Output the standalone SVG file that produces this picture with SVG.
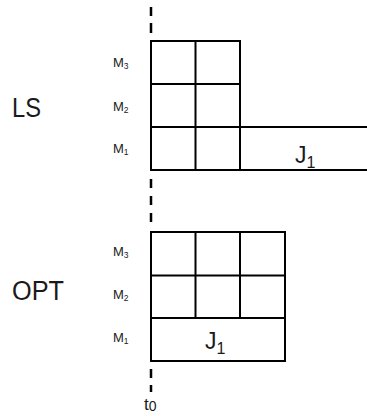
<svg xmlns="http://www.w3.org/2000/svg" width="367" height="416" viewBox="0 0 367 416">
<style>
.g{fill:none;stroke:#000;stroke-width:2}
.d{fill:none;stroke:#000;stroke-width:2.5}
text{font-family:"Liberation Sans",Arial,sans-serif;fill:#1a1a1a}
.big{font-size:27px}
.m{font-size:13px}
.s{font-size:8.5px}
.j{font-size:23px}
.js{font-size:16px}
</style>
<rect width="367" height="416" fill="#fff"/>
<g id="axis">
<path class="d" d="M151 7v9M151 23v10M151 179v9M151 196v9M151 213v9M151 369v9M151 385v7"/>
<text style="font-size:17px" x="144" y="410">t<tspan style="font-size:14px" dy="1">0</tspan></text>
</g>
<g id="ls">
<text class="big" x="12" y="117" textLength="29" lengthAdjust="spacingAndGlyphs">LS</text>
<text class="m" x="113" y="67">M<tspan class="s" dy="2">3</tspan></text>
<text class="m" x="113" y="111">M<tspan class="s" dy="2">2</tspan></text>
<text class="m" x="113" y="153">M<tspan class="s" dy="2">1</tspan></text>
<path class="g" d="M151 41H240V170H151ZM195.5 41V170M151 84H240M151 127H367M240 170H367"/>
<text class="j" x="295" y="163">J<tspan class="js" dy="5">1</tspan></text>
</g>
<g id="opt">
<text class="big" x="12" y="300" textLength="52" lengthAdjust="spacingAndGlyphs">OPT</text>
<text class="m" x="113" y="256">M<tspan class="s" dy="2">3</tspan></text>
<text class="m" x="113" y="299">M<tspan class="s" dy="2">2</tspan></text>
<text class="m" x="113" y="342">M<tspan class="s" dy="2">1</tspan></text>
<path class="g" d="M151 232H285V361H151ZM195.5 232V318M240 232V318M151 275.5H285M151 318H285"/>
<text class="j" x="205" y="349">J<tspan class="js" dy="5">1</tspan></text>
</g>
</svg>
